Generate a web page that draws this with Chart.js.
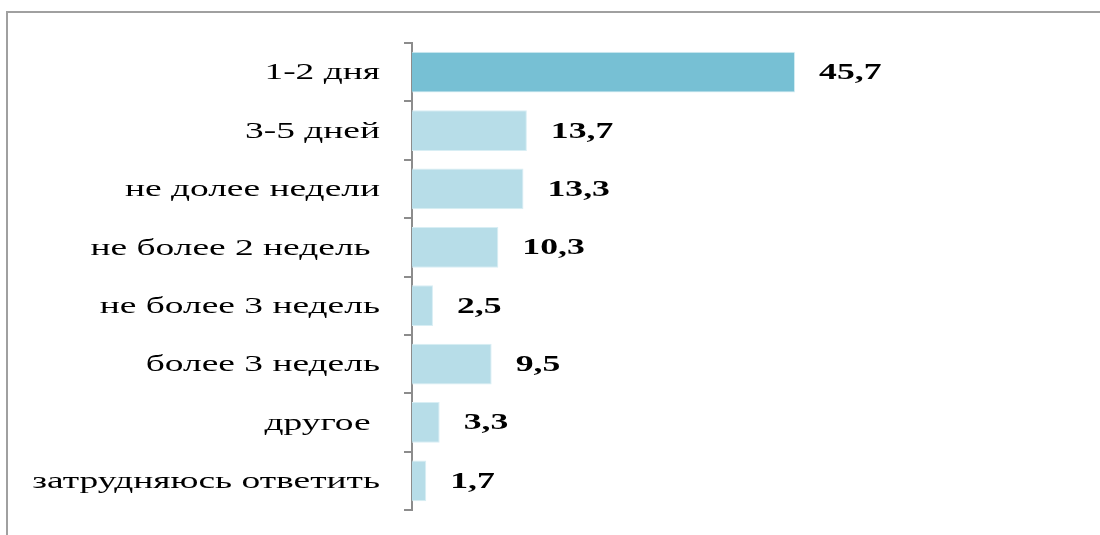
<!DOCTYPE html>
<html>
<head>
<meta charset="utf-8">
<script src="https://cdn.jsdelivr.net/npm/chart.js@4/dist/chart.umd.min.js"></script>
<style>
  body { margin: 0; background: #fff; }
  #wrap { position: relative; width: 1100px; height: 535px; }
  #frame { position: absolute; left: 6px; top: 11px; right: -10px; bottom: -10px;
           border-top: 2px solid #a0a0a0; border-left: 2px solid #a0a0a0; }
  canvas { position: absolute; left: 0; top: 0; }
</style>
</head>
<body>
<div id="wrap">
  <div id="frame"></div>
  <canvas id="bar-graph" width="1100" height="535"></canvas>
</div>
<script>
const categories = ['1-2 дня', '3-5 дней', 'не долее недели', 'не более 2 недель ', 'не более 3 недель',
  'более 3 недель', 'другое ', 'затрудняюсь ответить'];
const values = [45.7, 13.7, 13.3, 10.3, 2.5, 9.5, 3.3, 1.7];
const barColors = ['#77c0d4', '#b7dde8', '#b7dde8', '#b7dde8', '#b7dde8', '#b7dde8', '#b7dde8', '#b7dde8'];

// текст в оригинале растянут по горизонтали
function wideText(ctx, text, x, y, align, stretch) {
  ctx.save();
  ctx.translate(x, y);
  ctx.scale(stretch, 1);
  ctx.textAlign = align;
  ctx.fillText(text, 0, 0);
  ctx.restore();
}

const labelsPlugin = {
  id: 'labelsPlugin',
  afterDatasetsDraw(chart) {
    const ctx = chart.ctx;
    const yScale = chart.scales.y;
    const meta = chart.getDatasetMeta(0);
    ctx.save();
    ctx.fillStyle = '#000';
    ctx.textBaseline = 'middle';
    // подписи категорий
    ctx.font = '24px "Liberation Serif"';
    categories.forEach((c, i) => {
      wideText(ctx, c, 380, yScale.getPixelForTick(i) + 1, 'right', 1.56);
    });
    // значения справа от столбцов
    ctx.font = 'bold 23px "Liberation Serif"';
    meta.data.forEach((bar, i) => {
      wideText(ctx, values[i].toFixed(1).replace('.', ','), bar.x + 24, bar.y + 1, 'left', 1.55);
    });
    ctx.restore();
  }
};

const ctx = document.getElementById('bar-graph').getContext('2d');
new Chart(ctx, {
  type: 'bar',
  data: {
    labels: categories,
    datasets: [{
      data: values,
      backgroundColor: barColors,
      borderColor: '#d8eef4',
      borderWidth: 1,
      barPercentage: 0.7,
      categoryPercentage: 1
    }]
  },
  options: {
    indexAxis: 'y',
    responsive: false,
    animation: false,
    layout: { padding: { top: 43, bottom: 25, left: 0, right: 185 } },
    plugins: { legend: { display: false }, tooltip: { enabled: false } },
    scales: {
      x: { display: false, min: 0, max: 60 },
      y: {
        afterFit(scale) { scale.width = 412; },
        border: { color: '#8c8c8c', width: 2 },
        grid: { drawOnChartArea: false, drawTicks: true, tickLength: 8, color: '#8c8c8c', lineWidth: 2, offset: true },
        ticks: { display: false }
      }
    }
  },
  plugins: [labelsPlugin]
});
</script>
</body>
</html>
